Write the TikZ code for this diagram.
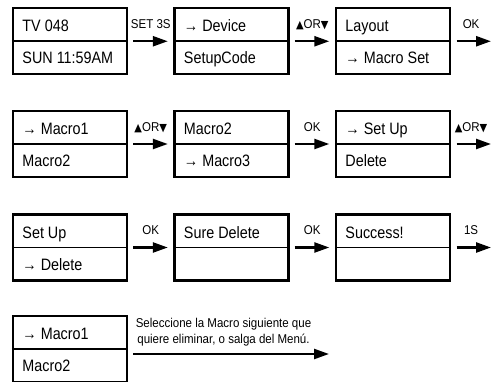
\documentclass[tikz,border=0pt]{standalone}
\usepackage{fontspec}
\setmainfont{Liberation Sans}
\newfontfamily\symfont{DejaVu Sans}
\usetikzlibrary{arrows.meta,calc}
\newcommand{\upt}{{\symfont\fontsize{11}{12}\selectfont ▲}}
\newcommand{\dnt}{{\symfont\fontsize{11}{12}\selectfont ▼}}
\tikzset{
  scrn/.style={draw, line width=2.4pt, minimum width=114pt, minimum height=66pt, inner sep=0pt},
  txt/.style={anchor=base west, inner sep=0pt, xscale=0.87, font=\fontsize{16.5}{18}\selectfont},
  lbl/.style={anchor=base, inner sep=0pt, xscale=0.9, font=\fontsize{12.8}{14}\selectfont},
  arr/.style={line width=2.4pt, -{Triangle[length=15pt,width=10pt]}},
  divline/.style={line width=1.8pt},
}
\begin{document}
\begin{tikzpicture}[x=1pt,y=-1pt]
\useasboundingbox (0,0) rectangle (492,382);
\clip (0,0) rectangle (492,382);
% row 1
\node[scrn] (a1) at (70,41.25) {};
\node[scrn] (a2) at (231.5,41.25) {};
\node[scrn] (a3) at (393,41.25) {};
% row 2
\node[scrn] (b1) at (70,144) {};
\node[scrn] (b2) at (231.5,144) {};
\node[scrn] (b3) at (393,144) {};
% row 3
\node[scrn] (c1) at (70,247.5) {};
\node[scrn] (c2) at (231.5,247.5) {};
\node[scrn] (c3) at (393,247.5) {};
% row 4
\node[scrn] (d1) at (70,349) {};
% dividers
\foreach \n in {a1,a2,a3,b1,b2,b3,c1,c2,c3,d1}{
  \draw[divline] (\n.west) -- (\n.east);
}
% texts
\node[txt] (a1u) at ([xshift=10.5pt,yshift=9.5pt]a1.west) {TV 048};
\node[txt] (a1l) at ([xshift=10.5pt,yshift=-22.5pt]a1.west) {SUN 11:59AM};
\node[txt] (a2u) at ([xshift=10.5pt,yshift=9.5pt]a2.west) {→ Device};
\node[txt] (a2l) at ([xshift=10.5pt,yshift=-22.5pt]a2.west) {SetupCode};
\node[txt] (a3u) at ([xshift=10.5pt,yshift=9.5pt]a3.west) {Layout};
\node[txt] (a3l) at ([xshift=10.5pt,yshift=-22.5pt]a3.west) {→ Macro Set};
\node[txt] (b1u) at ([xshift=10.5pt,yshift=9.5pt]b1.west) {→ Macro1};
\node[txt] (b1l) at ([xshift=10.5pt,yshift=-22.5pt]b1.west) {Macro2};
\node[txt] (b2u) at ([xshift=10.5pt,yshift=9.5pt]b2.west) {Macro2};
\node[txt] (b2l) at ([xshift=10.5pt,yshift=-22.5pt]b2.west) {→ Macro3};
\node[txt] (b3u) at ([xshift=10.5pt,yshift=9.5pt]b3.west) {→ Set Up};
\node[txt] (b3l) at ([xshift=10.5pt,yshift=-22.5pt]b3.west) {Delete};
\node[txt] (c1u) at ([xshift=10.5pt,yshift=9.5pt]c1.west) {Set Up};
\node[txt] (c1l) at ([xshift=10.5pt,yshift=-22.5pt]c1.west) {→ Delete};
\node[txt] (c2u) at ([xshift=10.5pt,yshift=9.5pt]c2.west) {Sure Delete};
\node[txt] (c3u) at ([xshift=10.5pt,yshift=9.5pt]c3.west) {Success!};
\node[txt] (d1u) at ([xshift=10.5pt,yshift=9.5pt]d1.west) {→ Macro1};
\node[txt] (d1l) at ([xshift=10.5pt,yshift=-22.5pt]d1.west) {Macro2};
% end coordinates
\coordinate (e1) at (491,41.25);
\coordinate (e2) at (491,144);
\coordinate (e3) at (491,247.5);
\coordinate (e4) at (329,354);
% arrows
\draw[arr] ([xshift=5pt]a1.east) -- ([xshift=-5.5pt]a2.west);
\draw[arr] ([xshift=5pt]a2.east) -- ([xshift=-5.5pt]a3.west);
\draw[arr] ([xshift=5.5pt]a3.east) -- (e1);
\draw[arr] ([xshift=5pt]b1.east) -- ([xshift=-5.5pt]b2.west);
\draw[arr] ([xshift=5pt]b2.east) -- ([xshift=-5.5pt]b3.west);
\draw[arr] ([xshift=5.5pt]b3.east) -- (e2);
\draw[arr] ([xshift=5pt]c1.east) -- ([xshift=-5.5pt]c2.west);
\draw[arr] ([xshift=5pt]c2.east) -- ([xshift=-5.5pt]c3.west);
\draw[arr] ([xshift=5.5pt]c3.east) -- (e3);
\draw[arr] ([xshift=5pt,yshift=-5pt]d1.east) -- (e4);
% labels
\node[lbl] (la1) at ($(a1.east)!0.5!(a2.west)+(0,-12.5)$) {SET 3S};
\node[lbl] (la2) at ($(a2.east)!0.5!(a3.west)+(0,-12.5)$) {\upt OR\dnt};
\node[lbl] (la3) at ($(a3.east)!0.5!(e1)+(0,-12.5)$) {OK};
\node[lbl] (lb1) at ($(b1.east)!0.5!(b2.west)+(0,-12.5)$) {\upt OR\dnt};
\node[lbl] (lb2) at ($(b2.east)!0.5!(b3.west)+(0,-12.5)$) {OK};
\node[lbl] (lb3) at ($(b3.east)!0.5!(e2)+(0,-12.5)$) {\upt OR\dnt};
\node[lbl] (lc1) at ($(c1.east)!0.5!(c2.west)+(0,-13.5)$) {OK};
\node[lbl] (lc2) at ($(c2.east)!0.5!(c3.west)+(0,-13.5)$) {OK};
\node[lbl] (lc3) at ($(c3.east)!0.5!(e3)+(0,-13.5)$) {1S};
\node[lbl] (ld1) at (223.5,327.7) {Seleccione la Macro siguiente que};
\node[lbl] (ld2) at (223.5,343) {quiere eliminar, o salga del Menú.};
\end{tikzpicture}
\end{document}
